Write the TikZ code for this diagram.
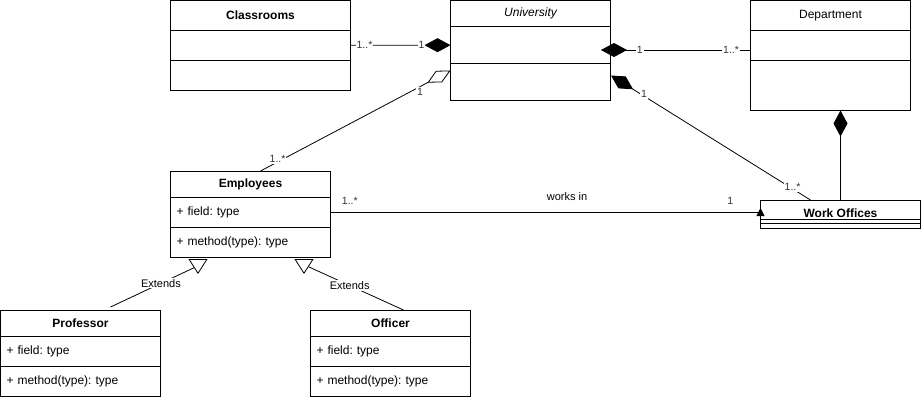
\documentclass[tikz,border=0pt]{standalone}
\usepackage{fontspec}
\setmainfont{Liberation Sans}
\usetikzlibrary{shapes, arrows.meta, calc, positioning}
\tikzstyle{classhead} = [draw, rectangle, anchor=north west, outer sep=0pt, minimum width=160pt, minimum height=26pt, inner sep=1pt, font=\bfseries]
\tikzstyle{classpart} = [draw, rectangle, outer sep=0pt, minimum height=30pt, text width=148pt, inner xsep=6pt, inner ysep=0pt, align=left]
\tikzstyle{mult} = [fill=white, inner sep=1pt, text=black!80, font=\fontsize{10.5}{12}\selectfont]
\tikzstyle{lbl} = [fill=white, inner sep=1pt, font=\fontsize{11}{13}\selectfont]
\tikzstyle{comp} = [-{Diamond[length=26pt, width=14pt]}]
\tikzstyle{aggr} = [-{Diamond[open, length=26pt, width=13pt]}]
\tikzstyle{gen} = [-{Triangle[open, length=15pt, width=19pt]}]
\tikzstyle{assoc} = [-{Triangle[length=8pt, width=8pt]}]

\begin{document}
\frenchspacing
\fontsize{12}{14}\selectfont
\begin{tikzpicture}[x=1pt, y=-1pt, line width=0.8pt]
    \useasboundingbox (0,0) rectangle (921,400);
    % classes
    \node[classhead, minimum width=180pt, minimum height=30pt] (clsh) at (170.5,0.5) {Classrooms};
    \node[classpart, text width=168pt, below=0pt of clsh] (clsf) {};
    \node[classpart, text width=168pt, below=0pt of clsf] (clsm) {};
    \node[classhead, font=\itshape] (univh) at (450.5,0.5) {University};
    \node[classpart, minimum height=37pt, below=0pt of univh] (univf) {};
    \node[classpart, minimum height=37pt, below=0pt of univf] (univm) {};
    \node[classhead, font={}, minimum height=30pt] (deph) at (750.5,0.5) {Department};
    \node[classpart, below=0pt of deph] (depf) {};
    \node[classpart, minimum height=50pt, below=0pt of depf] (depm) {};
    \node[classhead] (emph) at (170.5,171) {Employees};
    \node[classpart, below=0pt of emph] (empf) {+ field: type};
    \node[classpart, below=0pt of empf] (empm) {+ method(type): type};
    \node[classhead] (profh) at (0.5,310) {Professor};
    \node[classpart, below=0pt of profh] (proff) {+ field: type};
    \node[classpart, below=0pt of proff] (profm) {+ method(type): type};
    \node[classhead] (offh) at (310.5,310) {Officer};
    \node[classpart, below=0pt of offh] (offf) {+ field: type};
    \node[classpart, below=0pt of offf] (offm) {+ method(type): type};
    \node[classhead, minimum height=19pt, text height=16pt, text depth=1pt] (woh) at (760.5,200) {Work Offices};
    \node[classpart, minimum height=4pt, below=0pt of woh] (wof) {};
    \node[classpart, minimum height=5pt, below=0pt of wof] (wom) {};
    % free ends
    \coordinate (ud) at (601,50);
    \coordinate (ua) at (450.5,70.5);
    \coordinate (uw) at (611,75.5);
    \coordinate (pe) at (194.5,267.5);
    \coordinate (pb) at (198,259);
    \coordinate (oe) at (309,267);
    \coordinate (ob) at (304,259);
    % relations
    \draw[comp] (clsf) -- node[mult, pos=0.14] {1..*} node[mult, pos=0.71] {1} (univf);
    \draw[comp] (depf.west |- ud) -- node[mult, pos=0.13] {1..*} node[mult, pos=0.74] {1} (ud);
    \draw[aggr] ([xshift=10pt]emph.north) -- node[mult, pos=0.09, yshift=3pt] {1..*} node[mult, pos=0.84, yshift=-5pt] {1} (ua);
    \draw[comp] ([xshift=-30pt]woh.north) -- node[mult, pos=0.09, yshift=1.5pt] {1..*} node[mult, pos=0.835, yshift=2pt] {1} (uw);
    \draw[comp] (woh.north) -- (woh.north |- depm.south);
    \draw[assoc] (empf.east) -- node[mult, pos=0.045, yshift=11pt] {1..*} node[lbl, pos=0.55, yshift=15pt] {works in} node[mult, pos=0.93, yshift=11pt] {1} (woh.west |- empf.east) -- ++(0,4) -- ++(0,-8);
    \draw[gen] ([xshift=30pt, yshift=3pt]profh.north) -- node[lbl, pos=0.6] {Extends} (pe) (pb) -- ++(0,15);
    \draw[gen] ([xshift=13pt]offh.north) -- node[lbl, pos=0.57] {Extends} (oe) (ob) -- ++(0,15);
\end{tikzpicture}
\end{document}
